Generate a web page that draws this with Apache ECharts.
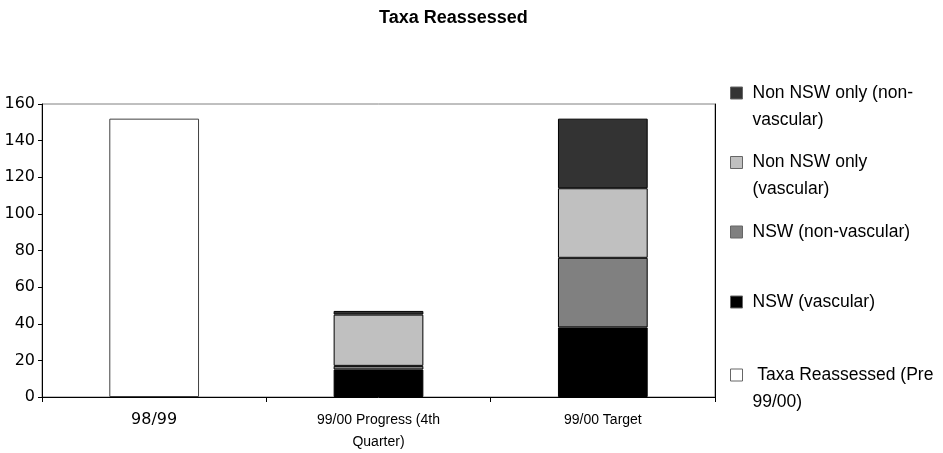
<!DOCTYPE html>
<html><head><meta charset="utf-8">
<script src="https://cdn.jsdelivr.net/npm/echarts@6/dist/echarts.min.js"></script>
<style>html,body{margin:0;padding:0;background:#fff}#c{width:943px;height:453px}</style>
</head><body><div id="c"></div>
<script>
const categories = ['98/99', '99/00 Progress (4th Quarter)', '99/00 Target'];
const categoryLabels = ['98/99', '99/00 Progress (4th\nQuarter)', '99/00 Target'];
const taxaPre = [152, '-', '-'];
const nswVascular = ['-', 15, 38];
const nswNonVascular = ['-', 2, 38];
const nonNswVascular = ['-', 28, 38];
const nonNswNonVascular = ['-', 2, 38];
const yMin = 0, yMax = 160, yStep = 20;
const seriesNames = ['Taxa Reassessed (Pre 99/00)', 'NSW (vascular)', 'NSW (non-vascular)', 'Non NSW only (vascular)', 'Non NSW only (non-vascular)'];
const legendTexts = [' Taxa Reassessed (Pre\n99/00)', 'NSW (vascular)', 'NSW (non-vascular)', 'Non NSW only\n(vascular)', 'Non NSW only (non-\nvascular)'];
const colors = ['#FFFFFF', '#000000', '#808080', '#C0C0C0', '#333333'];
const values = [taxaPre, nswVascular, nswNonVascular, nonNswVascular, nonNswNonVascular];

// legend icon centre y positions (layout)
const legendIconY = [375, 302, 232, 162.5, 93];
const LH = 27;

const chart = echarts.init(document.getElementById('c'), null, {renderer: 'canvas'});

const legends = seriesNames.map((name, i) => {
  const twoLine = legendTexts[i].indexOf('\n') >= 0;
  const top = twoLine ? legendIconY[i] - (LH * 3) / 2 : legendIconY[i] - LH / 2;
  return {
    data: [{name: name, icon: 'rect'}], left: 730, top: top, padding: 0, itemWidth: 12, itemHeight: 12,
    selectedMode: false,
    formatter: () => twoLine ? '\u00a0\n' + legendTexts[i] : legendTexts[i],
    itemStyle: {borderColor: '#666', borderWidth: 1},
    textStyle: {fontFamily: 'Liberation Sans, Arial, sans-serif', fontSize: 17.5, color: '#000', lineHeight: LH,
      padding: [0, 0, 0, 5]}
  };
});

const option = {
  animation: false,
  backgroundColor: '#fff',
  title: {
    text: 'Taxa Reassessed', left: 379, top: 9, padding: 0,
    textStyle: {fontFamily: 'Liberation Sans, Arial, sans-serif', fontSize: 18, fontWeight: 'bold', color: '#000'}
  },
  legend: legends,
  grid: {left: 42, right: 228, top: 104, bottom: 56, show: true, borderColor: '#808080', borderWidth: 1},
  xAxis: {
    type: 'category', data: categories,
    axisLine: {lineStyle: {color: '#000', width: 1}},
    axisTick: {show: true, length: 5, lineStyle: {color: '#000'}},
    axisLabel: {
      margin: 12, interval: 0,
      formatter: (v, idx) => {
        const t = categoryLabels[idx];
        const st = idx === 0 ? 'd' : 'n';
        return t.split('\n').map(l => '{' + st + '|' + l + '}').join('\n');
      },
      rich: {
        d: {fontFamily: 'DejaVu Sans', fontSize: 16, color: '#000', lineHeight: 22},
        n: {fontFamily: 'Liberation Sans, Arial, sans-serif', fontSize: 14, color: '#000', lineHeight: 22}
      }
    }
  },
  yAxis: [{
    type: 'value', min: yMin, max: yMax, interval: yStep,
    axisLine: {show: true, lineStyle: {color: '#000'}},
    axisTick: {show: true, length: 4, lineStyle: {color: '#000'}},
    axisLabel: {fontFamily: 'DejaVu Sans', fontSize: 16, color: '#000', margin: 7},
    splitLine: {show: false}
  }, {
    type: 'value', min: yMin, max: yMax, interval: yStep, position: 'right',
    axisLine: {show: true, lineStyle: {color: '#000'}},
    axisTick: {show: false}, axisLabel: {show: false}, splitLine: {show: false}
  }],
  series: seriesNames.map((name, i) => ({
    name: name, type: 'bar', stack: 'total', data: values[i], barWidth: '40%',
    itemStyle: {color: colors[i], borderColor: i === 0 ? '#404040' : '#000', borderWidth: 1}
  }))
};
chart.setOption(option);
</script></body></html>
